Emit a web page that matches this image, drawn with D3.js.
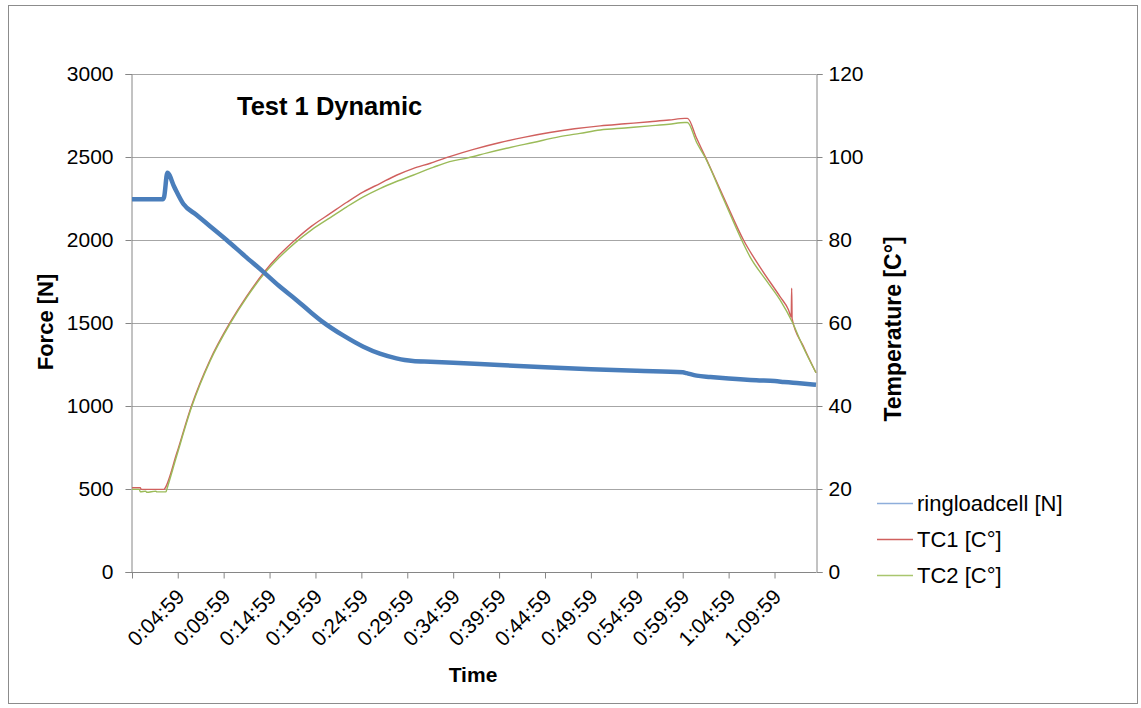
<!DOCTYPE html>
<html>
<head>
<meta charset="utf-8">
<script src="https://cdn.jsdelivr.net/npm/d3@7"></script>
<style>
  body { margin: 0; background: #fff; }
  svg { font-family: "Liberation Sans", Arial, sans-serif; }
  .grid line { stroke: #a6a6a6; }
  .axis path, .axis line { stroke: #868686; }
  .axis text { fill: #000; font-size: 21px; }
</style>
</head>
<body>
<svg width="1141" height="708"></svg>
<script>
// time in minutes
const forceTime = [0, 3.35, 3.5, 3.85, 4.6, 5.6, 7, 8.5, 10.3, 12.3, 14.3, 16, 17.9, 19.4, 20.84, 23, 25.2, 27, 28.8, 29.7, 30.6, 32.5, 35, 40, 45, 50, 55, 60, 60.4, 61.5, 63, 65, 68, 70, 71, 72, 73, 74.5];
const forceVals = [2245, 2245, 2260, 2405, 2320, 2217, 2152, 2083, 2000, 1903, 1808, 1724, 1639, 1568, 1504, 1425, 1357, 1315, 1287, 1277, 1271, 1267, 1261, 1247, 1234, 1222, 1212, 1203, 1198, 1183, 1175, 1166, 1155, 1150, 1145, 1140, 1135, 1128];

const tc1Time = [0, 0.9, 1.0, 3.5, 3.6, 4.87, 6.5, 8.5, 10.7, 12.5, 14.3, 16, 17.76, 19.6, 21.6, 23.4, 25.2, 27, 28.8, 30.6, 32.5, 34.6, 37.3, 40.1, 42.8, 45.5, 48.2, 51, 53.7, 56.4, 58.5, 60.2, 60.5, 61.5, 62.6, 64.6, 66.6, 68.6, 70.6, 71.5, 71.8, 71.85, 71.9, 73.1, 74.5];
const tc1Vals = [20.3, 20.3, 19.9, 19.9, 20.2, 28.6, 40.2, 51.1, 60.2, 66.5, 72, 76.3, 80, 83.4, 86.4, 89.1, 91.6, 93.6, 95.6, 97.2, 98.5, 100.1, 101.9, 103.5, 104.8, 105.9, 106.8, 107.5, 108.0, 108.5, 108.9, 109.3, 109.3, 104.5, 99.3, 89.5, 80, 72.8, 66.3, 63.2, 61.5, 68.4, 61.0, 54.5, 48];

const tc2Time = [0, 0.8, 0.9, 1.5, 1.6, 2.6, 2.7, 3.7, 3.8, 4.87, 6.5, 8.5, 10.7, 12.5, 14.3, 16, 17.76, 19.6, 21.6, 23.4, 25.2, 27, 28.8, 30.6, 32.8, 34.6, 36.6, 38.7, 40.8, 43.7, 46.6, 48.8, 51, 53.7, 56.4, 58.5, 60.2, 60.5, 61.5, 62.4, 64.4, 66.4, 67.3, 69, 70.6, 71.9, 73.1, 74.5];
const tc2Vals = [19.9, 19.9, 19.3, 19.5, 19.2, 19.5, 19.3, 19.3, 20.0, 28.0, 39.8, 50.8, 59.9, 66.2, 71.6, 75.7, 79.3, 82.5, 85.4, 88.0, 90.4, 92.4, 94.1, 95.6, 97.5, 98.9, 99.8, 101.0, 102.1, 103.5, 104.9, 105.7, 106.5, 107.0, 107.5, 107.9, 108.3, 108.3, 103.5, 100, 90, 80, 76, 70.5, 65.5, 60.3, 54.2, 48];

const timeTicks = [0, 4.983, 9.983, 14.983, 19.983, 24.983, 29.983, 34.983, 39.983, 44.983, 49.983, 54.983, 59.983, 64.983, 69.983];
const timeLabels = ['', '0:04:59', '0:09:59', '0:14:59', '0:19:59', '0:24:59', '0:29:59', '0:34:59', '0:39:59', '0:44:59', '0:49:59', '0:54:59', '0:59:59', '1:04:59', '1:09:59'];
const forceTicks = [0, 500, 1000, 1500, 2000, 2500, 3000];
const tempTicks = [0, 20, 40, 60, 80, 100, 120];

const seriesNames = ['ringloadcell [N]', 'TC1 [C°]', 'TC2 [C°]'];
const seriesColors = ['#4a7ebb', '#d0605e', '#9bbb59'];
const legendColors = ['#8eaedb', '#d0605e', '#a9c66e'];

const svg = d3.select('svg');

svg.append('rect')
    .attr('x', 8.5).attr('y', 5.5)
    .attr('width', 1129).attr('height', 698)
    .attr('fill', 'none').attr('stroke', '#8c8c8c');

const plotLeft = 132, plotRight = 816, plotTop = 74, plotBottom = 572;

const x = d3.scaleLinear().domain([0, 74.5]).range([plotLeft, plotRight]);
const yF = d3.scaleLinear().domain([0, 3000]).range([plotBottom, plotTop]);
const yT = d3.scaleLinear().domain([0, 120]).range([plotBottom, plotTop]);

// gridlines
svg.append('g').attr('class', 'grid')
    .selectAll('line')
    .data(forceTicks.slice(1)).enter()
    .append('line')
        .attr('x1', plotLeft).attr('x2', plotRight)
        .attr('y1', d => yF(d) + 0.5).attr('y2', d => yF(d) + 0.5);

const xAxis = svg.append('g')
    .attr('class', 'axis')
    .attr('transform', `translate(0,${plotBottom + 0.5})`)
    .call(d3.axisBottom(x).tickValues(timeTicks)
        .tickFormat((d, i) => timeLabels[i]).tickSizeOuter(0).tickSize(6));
xAxis.select('.domain').attr('d', `M${plotLeft},0H${plotRight}`);
xAxis.selectAll('text')
    .attr('text-anchor', 'end')
    .attr('dy', '0.35em')
    .attr('transform', 'translate(-4,14) rotate(-45)');

svg.append('g')
    .attr('class', 'axis')
    .attr('transform', `translate(${plotLeft - 0.5},0)`)
    .call(d3.axisLeft(yF).tickValues(forceTicks).tickSizeOuter(0).tickSize(6).tickPadding(12).tickFormat(d3.format('d')));

svg.append('g')
    .attr('class', 'axis')
    .attr('transform', `translate(${plotRight + 0.5},0)`)
    .call(d3.axisRight(yT).tickValues(tempTicks).tickSizeOuter(0).tickSize(6).tickPadding(6).tickFormat(d3.format('d')));

// lines
const lineF = d3.line().curve(d3.curveMonotoneX).x((d, i) => x(forceTime[i])).y(d => yF(d));
const lineT = times => d3.line().curve(d3.curveMonotoneX).x((d, i) => x(times[i])).y(d => yT(d));

svg.append('path')
    .attr('d', lineT(tc1Time)(tc1Vals))
    .attr('fill', 'none').attr('stroke', seriesColors[1]).attr('stroke-width', 1.4);
svg.append('path')
    .attr('d', lineT(tc2Time)(tc2Vals))
    .attr('fill', 'none').attr('stroke', seriesColors[2]).attr('stroke-width', 1.4);
svg.append('path')
    .attr('d', lineF(forceVals))
    .attr('fill', 'none').attr('stroke', seriesColors[0]).attr('stroke-width', 4.5)
    .attr('stroke-linejoin', 'round');

// titles
svg.append('text')
    .attr('x', 237).attr('y', 115)
    .attr('font-size', 25.5).attr('font-weight', 'bold')
    .text('Test 1 Dynamic');

svg.append('text')
    .attr('transform', 'translate(53,322) rotate(-90)')
    .attr('text-anchor', 'middle')
    .attr('font-size', 22).attr('font-weight', 'bold')
    .text('Force [N]');

svg.append('text')
    .attr('transform', 'translate(901,329) rotate(-90)')
    .attr('text-anchor', 'middle')
    .attr('font-size', 23).attr('font-weight', 'bold')
    .text('Temperature  [C°]');

svg.append('text')
    .attr('x', 473).attr('y', 682)
    .attr('text-anchor', 'middle')
    .attr('font-size', 21).attr('font-weight', 'bold')
    .text('Time');

// legend
const legend = svg.append('g')
    .selectAll('g')
    .data(seriesNames).enter()
    .append('g')
        .attr('transform', (d, i) => `translate(877,${503.5 + i * 36})`);
legend.append('line')
    .attr('x1', 0).attr('x2', 36)
    .attr('stroke', (d, i) => legendColors[i]).attr('stroke-width', 1.6);
legend.append('text')
    .attr('x', 40).attr('dy', '0.35em')
    .attr('font-size', 22)
    .text(d => d);
</script>
</body>
</html>
